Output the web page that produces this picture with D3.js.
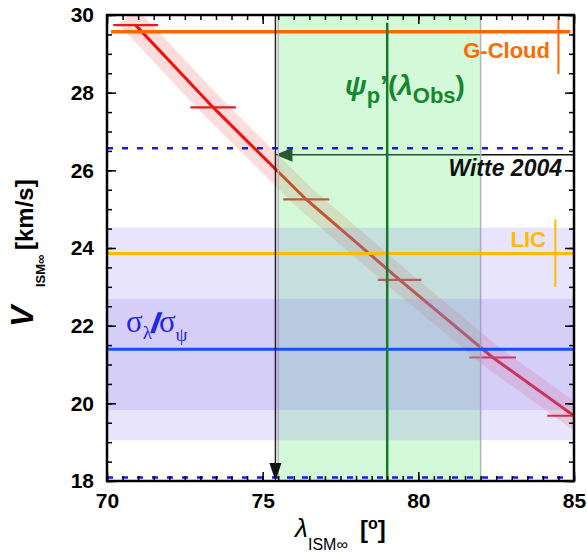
<!DOCTYPE html>
<html>
<head>
<meta charset="utf-8">
<script src="https://cdn.jsdelivr.net/npm/d3@7/dist/d3.min.js"></script>
<style>
  html, body { margin: 0; padding: 0; background: #fff; }
  svg { display: block; }
  text { font-family: "Liberation Sans", Arial, Helvetica, sans-serif; }
</style>
</head>
<body>
<svg id="chart" width="587" height="552"></svg>
<script>
// ---- data -------------------------------------------------------------
// inflow longitude vs. speed along the parabolic-trajectory degeneracy
const lambdaPts = [70.92, 73.41, 76.40, 79.40, 82.39, 85.0];
const speedPts  = [29.74, 27.62, 25.25, 23.18, 21.18, 19.68];
const lambdaErr = [0.72, 0.73, 0.74, 0.70, 0.75, 0.86];

// ψ_p'(λ_Obs) interval and centre
const psiRange  = [75.5, 82.0];
const psiCenter = 79.0;
const psiTop    = 29.8;

// σ_λ/σ_ψ speed intervals and best value
const sigmaOuter = [19.05, 24.52];
const sigmaInner = [19.83, 22.69];
const sigmaBest  = 21.39;

// Witte 2004 reference
const witteSpeed  = 26.40;
const witteLambda = 75.41;
const witteDashed = [26.57, 18.09];

// local interstellar clouds
const gCloudSpeed = 29.57, gCloudErr = [28.48, 29.95], gCloudErrLambda = 84.5;
const licSpeed    = 23.86, licErr    = [23.00, 24.74], licErrLambda    = 84.4;

// axes
const xDomain = [70, 85], yDomain = [18, 30];
const xMajor = [70, 75, 80, 85];
const yMajor = [18, 20, 22, 24, 26, 28, 30];
const xMinor = d3.range(70, 85.001, 0.5);
const yMinor = d3.range(18, 30.001, 0.5);

// ---- layout -----------------------------------------------------------
const L = 107, R = 574, T = 15, B = 481;
const svg = d3.select("#chart");
const x = d3.scaleLinear().domain(xDomain).range([L, R]);
const y = d3.scaleLinear().domain(yDomain).range([B, T]);

svg.append("defs").append("clipPath").attr("id", "plotClip")
  .append("rect").attr("x", L).attr("y", T).attr("width", R - L).attr("height", B - T);
const plot = svg.append("g").attr("clip-path", "url(#plotClip)");

const pts = lambdaPts.map((l, i) => ({ l, v: speedPts[i], e: lambdaErr[i] }));
const line = d3.line().x(d => x(d.l)).y(d => y(d.v));

// uncertainty corridor around the degeneracy curve
plot.append("path").datum(pts).attr("d", line)
  .attr("fill", "none").attr("stroke", "#fddcdc").attr("stroke-width", 24)
  .attr("stroke-linecap", "square").attr("stroke-linejoin", "round");

plot.append("path").datum(pts).attr("d", line)
  .attr("fill", "none").attr("stroke", "#ee1111").attr("stroke-width", 3);

plot.selectAll("line.err").data(pts).join("line").attr("class", "err")
  .attr("x1", d => x(d.l - d.e)).attr("x2", d => x(d.l + d.e))
  .attr("y1", d => y(d.v)).attr("y2", d => y(d.v))
  .attr("stroke", "#dd2020").attr("stroke-width", 2.2);

// Witte 2004 arrow (left-pointing)
plot.append("line")
  .attr("x1", x(xDomain[1])).attr("x2", x(witteLambda) + 14)
  .attr("y1", y(witteSpeed)).attr("y2", y(witteSpeed))
  .attr("stroke", "#111").attr("stroke-width", 1.5);
plot.append("path")
  .attr("d", `M${x(witteLambda)},${y(witteSpeed)} l17,-7 l0,14 Z`)
  .attr("fill", "#0c1a0c");
svg.append("text").attr("x", 562).attr("y", 176).attr("text-anchor", "end")
  .attr("font-size", 23).attr("font-weight", "bold").attr("font-style", "italic")
  .attr("fill", "#111").text("Witte 2004");

// ψ interval band
plot.append("rect")
  .attr("x", x(psiRange[0])).attr("width", x(psiRange[1]) - x(psiRange[0]))
  .attr("y", T).attr("height", B - T)
  .attr("fill", "rgb(110,235,130)").attr("fill-opacity", 0.3);
plot.selectAll("line.psiEdge").data(psiRange).join("line").attr("class", "psiEdge")
  .attr("x1", d => x(d)).attr("x2", d => x(d)).attr("y1", T).attr("y2", B)
  .attr("stroke", "#b4b4b4").attr("stroke-width", 1.5);

// σ speed bands
[sigmaOuter, sigmaInner].forEach(r => {
  plot.append("rect")
    .attr("x", L).attr("width", R - L)
    .attr("y", y(r[1])).attr("height", y(r[0]) - y(r[1]))
    .attr("fill", "rgb(140,120,240)").attr("fill-opacity", 0.2);
});

// reference lines
plot.selectAll("line.dash").data(witteDashed).join("line").attr("class", "dash")
  .attr("x1", x(70)).attr("x2", x(84.85))
  .attr("y1", d => y(d)).attr("y2", d => y(d))
  .attr("stroke", "#1a1aee").attr("stroke-width", 2.5).attr("stroke-dasharray", "6,9");

plot.append("line").attr("x1", L).attr("x2", R)
  .attr("y1", y(sigmaBest)).attr("y2", y(sigmaBest))
  .attr("stroke", "#1050ff").attr("stroke-width", 3);

plot.append("line").attr("x1", x(70.13)).attr("x2", x(84.88))
  .attr("y1", y(gCloudSpeed)).attr("y2", y(gCloudSpeed))
  .attr("stroke", "#ff6600").attr("stroke-width", 3.5);
plot.append("line").attr("x1", x(gCloudErrLambda)).attr("x2", x(gCloudErrLambda))
  .attr("y1", y(gCloudErr[0])).attr("y2", y(gCloudErr[1]))
  .attr("stroke", "#ff6600").attr("stroke-width", 2);

plot.append("line").attr("x1", L).attr("x2", R)
  .attr("y1", y(licSpeed)).attr("y2", y(licSpeed))
  .attr("stroke", "#ffbb00").attr("stroke-width", 3);
plot.append("line").attr("x1", x(licErrLambda)).attr("x2", x(licErrLambda))
  .attr("y1", y(licErr[0])).attr("y2", y(licErr[1]))
  .attr("stroke", "#ffbb00").attr("stroke-width", 2);

plot.append("line").attr("x1", x(psiCenter)).attr("x2", x(psiCenter))
  .attr("y1", y(psiTop)).attr("y2", B)
  .attr("stroke", "#157a2a").attr("stroke-width", 2.5);

// downward arrow at Witte longitude
plot.append("line").attr("x1", x(witteLambda)).attr("x2", x(witteLambda))
  .attr("y1", T).attr("y2", B - 16)
  .attr("stroke", "#222").attr("stroke-width", 1.5);
plot.append("path")
  .attr("d", `M${x(witteLambda)},${B} l-6,-18 l12,0 Z`).attr("fill", "#111");

// labels inside the plot
svg.append("text").attr("x", 550).attr("y", 58).attr("text-anchor", "end")
  .attr("font-size", 22).attr("font-weight", "bold").attr("fill", "#ff6a00").text("G-Cloud");
svg.append("text").attr("x", 546).attr("y", 247).attr("text-anchor", "end")
  .attr("font-size", 22).attr("font-weight", "bold").attr("fill", "#ffbb00").text("LIC");

const psiLbl = svg.append("text").attr("x", 345).attr("y", 95)
  .attr("fill", "#17872f").attr("font-weight", "bold");
psiLbl.append("tspan").attr("font-size", 28).attr("font-style", "italic").text("ψ");
psiLbl.append("tspan").attr("font-size", 22).attr("dy", 8).text("p");
psiLbl.append("tspan").attr("font-size", 28).attr("dy", -8).text("’(");
psiLbl.append("tspan").attr("font-size", 28).attr("font-style", "italic").text("λ");
psiLbl.append("tspan").attr("font-size", 22).attr("dy", 8).text("Obs");
psiLbl.append("tspan").attr("font-size", 28).attr("dy", -8).text(")");

const sigLbl = svg.append("text").attr("x", 126).attr("y", 332).attr("fill", "#2626e8");
sigLbl.append("tspan").attr("font-family", "Liberation Serif, serif").attr("font-size", 31).text("σ");
sigLbl.append("tspan").attr("font-family", "Liberation Serif, serif").attr("font-size", 19).attr("dy", 7).text("λ");
sigLbl.append("tspan").attr("font-family", "Liberation Sans, sans-serif").attr("font-size", 25)
  .attr("font-weight", "bold").attr("font-style", "italic")
  .attr("stroke", "#2626e8").attr("stroke-width", 1.6).attr("dy", -7).text("/");
sigLbl.append("tspan").attr("font-family", "Liberation Serif, serif").attr("font-size", 31).text("σ");
sigLbl.append("tspan").attr("font-family", "Liberation Serif, serif").attr("font-size", 19).attr("dy", 9).text("ψ");

// ---- axes -------------------------------------------------------------
function ticks(axis, vals, size, g) {
  g.call(axis.tickValues(vals).tickSize(size).tickSizeOuter(0).tickFormat(""));
  g.select(".domain").remove();
  g.selectAll(".tick line").attr("stroke", "#000").attr("stroke-width", 1.5);
}
const gx = svg.append("g").attr("transform", `translate(0,${B})`);
const gxt = svg.append("g").attr("transform", `translate(0,${T})`);
const gy = svg.append("g").attr("transform", `translate(${L},0)`);
const gyr = svg.append("g").attr("transform", `translate(${R},0)`);
ticks(d3.axisBottom(x), xMinor, -5, gx.append("g"));
ticks(d3.axisTop(x), xMinor, -5, gxt.append("g"));
ticks(d3.axisLeft(y), yMinor, -5, gy.append("g"));
ticks(d3.axisRight(y), yMinor, -5, gyr.append("g"));
ticks(d3.axisTop(x), xMajor, -9, gxt.append("g"));
ticks(d3.axisRight(y), yMajor, -9, gyr.append("g"));

const xa = gx.append("g").call(d3.axisBottom(x).tickValues(xMajor).tickSize(-9).tickSizeOuter(0).tickPadding(12));
const ya = gy.append("g").call(d3.axisLeft(y).tickValues(yMajor).tickSize(-9).tickSizeOuter(0).tickPadding(13));
[xa, ya].forEach(g => {
  g.select(".domain").remove();
  g.selectAll(".tick line").attr("stroke", "#000").attr("stroke-width", 1.5);
  g.selectAll(".tick text").attr("font-size", 21).attr("font-weight", "bold")
    .attr("font-family", "Liberation Sans, Arial, sans-serif").attr("fill", "#000");
});

svg.append("rect").attr("x", L).attr("y", T).attr("width", R - L).attr("height", B - T)
  .attr("fill", "none").attr("stroke", "#000").attr("stroke-width", 2.5);

// axis titles
svg.append("text").attr("x", 295).attr("y", 537)
  .attr("font-family", "Liberation Serif, serif").attr("font-style", "italic")
  .attr("font-size", 26).text("λ");
svg.append("text").attr("x", 308).attr("y", 550).attr("font-size", 16).text("ISM∞");
const xUnit = svg.append("text").attr("x", 360).attr("y", 538).attr("font-weight", "bold");
xUnit.append("tspan").attr("font-size", 24).text("[");
xUnit.append("tspan").attr("font-size", 16).attr("dy", -9).text("o");
xUnit.append("tspan").attr("font-size", 24).attr("dy", 9).text("]");

svg.append("text").attr("transform", "translate(33,327) rotate(-90)")
  .attr("font-size", 32).attr("font-weight", "bold").attr("font-style", "italic").text("V");
svg.append("text").attr("transform", "translate(45,287) rotate(-90)")
  .attr("font-size", 13).attr("font-weight", "bold").text("ISM∞");
svg.append("text").attr("transform", "translate(33,250) rotate(-90)")
  .attr("font-size", 24).attr("font-weight", "bold").text("[km/s]");
</script>
</body>
</html>
